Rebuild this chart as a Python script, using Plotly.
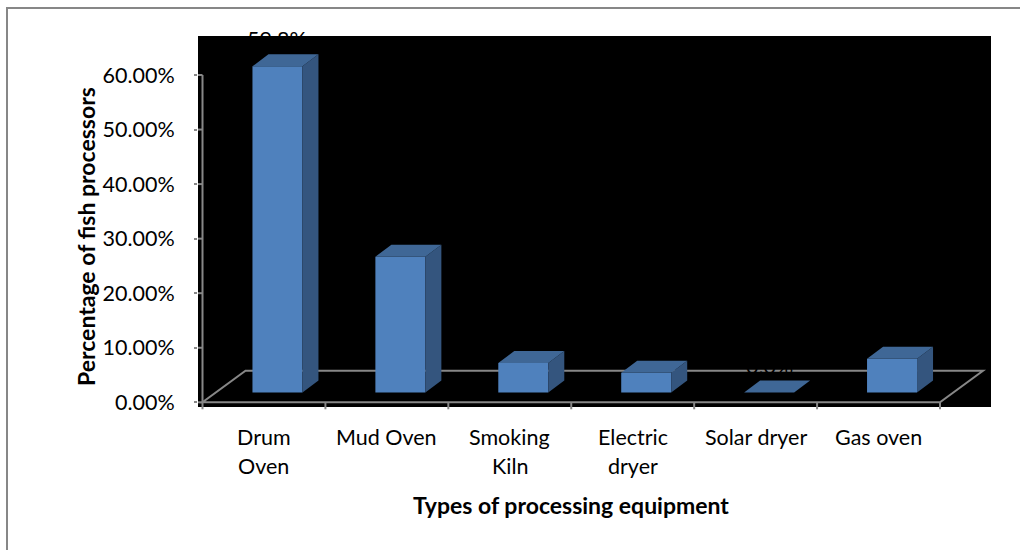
import plotly.graph_objects as go

# ---- data ---------------------------------------------------------------
categories = ["Drum Oven", "Mud Oven", "Smoking Kiln", "Electric dryer", "Solar dryer", "Gas oven"]
category_lines = [["Drum", "Oven"], ["Mud Oven"], ["Smoking", "Kiln"],
                  ["Electric", "dryer"], ["Solar dryer"], ["Gas oven"]]
values = [59.8, 24.9, 5.4, 3.6, 0.0, 6.2]          # percent of fish processors
y_ticks = [0, 10, 20, 30, 40, 50, 60]
y_tick_labels = ["0.00%", "10.00%", "20.00%", "30.00%", "40.00%", "50.00%", "60.00%"]
x_title = "Types of processing equipment"
y_title = "Percentage of fish processors"

# ---- page geometry (pixels) --------------------------------------------
W, H = 1026, 550
PL, PR, PT, PB = 198, 1000, 20, 412          # plot area
X0_PX, XN_PX = 202.5, 940.0                  # x = 0 and x = n on screen
Y0_PX, YTOP_PX = 402.3, 75.0                 # y = 0 and y = 60 on screen

n = len(categories)
ppx = (XN_PX - X0_PX) / n
ppy = (Y0_PX - YTOP_PX) / y_ticks[-1]
x_range = [-(X0_PX - PL) / ppx, n + (PR - XN_PX) / ppx]
y_range = [-(PB - Y0_PX) / ppy, y_ticks[-1] + (YTOP_PX - PT) / ppy]


def ux(px):
    return px / ppx


def uy(px):
    return px / ppy


def paper_x(px):
    return (px - PL) / (PR - PL)


def paper_y(py):
    return (PB - py) / (PB - PT)


# 3-D look: floor depth and bar depth, bars centred in the floor depth
FD_X, FD_Y = ux(43), uy(31.6)
BD_X, BD_Y = ux(16), uy(12)
BAR_W = ux(50)
IN_X, IN_Y = (FD_X - BD_X) / 2, (FD_Y - BD_Y) / 2

GRAY = "#878787"
FRONT = "#4F81BD"
TOP = "#3F6796"
SIDE = "#34557E"
FONT = "Lato"
LABEL_SIZE = 21.5
TITLE_SIZE = 23

fig = go.Figure()

# value axis line with the inner part of its ticks
ax_x, ax_y = [0, 0, None], [0, y_ticks[-1], None]
for t in y_ticks:
    ax_x += [x_range[0], 0, None]
    ax_y += [t, t, None]
# category separators hanging below the floor
for i in range(n + 1):
    ax_x += [i, i, None]
    ax_y += [0, -uy(7), None]
fig.add_trace(go.Scatter(x=ax_x, y=ax_y, mode="lines",
                         line=dict(color=GRAY, width=2), hoverinfo="skip"))

# bars: front faces
centers = [i + 0.5 + IN_X for i in range(n)]
fig.add_trace(go.Bar(x=centers, y=values, base=IN_Y, width=BAR_W,
                     marker=dict(color=FRONT, line=dict(width=0)),
                     hovertext=categories, hoverinfo="text+y"))

# bars: right-hand sides and tops
sx, sy, tx, ty = [], [], [], []
for c, v in zip(centers, values):
    xl, xr = c - BAR_W / 2, c + BAR_W / 2
    b, t = IN_Y, IN_Y + v
    sx += [xr, xr + BD_X, xr + BD_X, xr, xr, None]
    sy += [b, b + BD_Y, t + BD_Y, t, b, None]
    tx += [xl, xr, xr + BD_X, xl + BD_X, xl, None]
    ty += [t, t, t + BD_Y, t + BD_Y, t, None]
fig.add_trace(go.Scatter(x=sx, y=sy, mode="lines", fill="toself", fillcolor=SIDE,
                         line=dict(width=0, color=SIDE), hoverinfo="skip"))
fig.add_trace(go.Scatter(x=tx, y=ty, mode="lines", fill="toself", fillcolor=TOP,
                         line=dict(width=0, color=TOP), hoverinfo="skip"))

annotations = []
# data labels
for c, v in zip(centers, values):
    annotations.append(dict(x=c, y=IN_Y + v + BD_Y + uy(15), xref="x", yref="y",
                            text=f"{v:.1f}%", showarrow=False, yanchor="middle",
                            font=dict(family=FONT, size=LABEL_SIZE, color="black")))
# category labels
for i, lines in enumerate(category_lines):
    for k, line in enumerate(lines):
        annotations.append(dict(x=i + 0.5, y=paper_y(437 + 29 * k), xref="x", yref="paper",
                                text=line, showarrow=False, yanchor="middle",
                                font=dict(family=FONT, size=LABEL_SIZE, color="black")))
# axis titles
annotations.append(dict(x=paper_x(571), y=paper_y(505), xref="paper", yref="paper",
                        text=f"<b>{x_title}</b>", showarrow=False, yanchor="middle",
                        font=dict(family=FONT, size=TITLE_SIZE, color="black")))
annotations.append(dict(x=paper_x(86), y=paper_y(237), xref="paper", yref="paper",
                        text=f"<b>{y_title}</b>", showarrow=False, textangle=-90,
                        xanchor="center", yanchor="middle",
                        font=dict(family=FONT, size=TITLE_SIZE, color="black")))

floor_path = (f"M 0,0 L {n},0 L {n + FD_X},{FD_Y} L {FD_X},{FD_Y} Z")
shapes = [
    # dark back wall
    dict(type="rect", xref="paper", yref="paper", layer="below",
         x0=paper_x(198), x1=paper_x(991), y0=paper_y(407), y1=paper_y(36),
         fillcolor="black", line=dict(width=0)),
    # chart frame: top and left edges
    dict(type="line", xref="paper", yref="paper", layer="below",
         x0=paper_x(6), x1=paper_x(1020), y0=paper_y(8), y1=paper_y(8),
         line=dict(color=GRAY, width=2)),
    dict(type="line", xref="paper", yref="paper", layer="below",
         x0=paper_x(7), x1=paper_x(7), y0=paper_y(7), y1=paper_y(551),
         line=dict(color=GRAY, width=2)),
    # floor outline, behind the bars
    dict(type="path", xref="x", yref="y", layer="below", path=floor_path,
         fillcolor="rgba(0,0,0,0)", line=dict(color=GRAY, width=2)),
]

fig.update_layout(
    width=W, height=H,
    margin=dict(l=PL, r=W - PR, t=PT, b=H - PB, pad=0),
    paper_bgcolor="white", plot_bgcolor="rgba(0,0,0,0)",
    showlegend=False, annotations=annotations, shapes=shapes,
    font=dict(family=FONT, size=LABEL_SIZE, color="black"),
    xaxis=dict(range=x_range, visible=False, fixedrange=True),
    yaxis=dict(range=y_range, tickvals=y_ticks, ticktext=y_tick_labels,
               ticks="outside", ticklen=3, tickwidth=2, tickcolor=GRAY,
               ticklabelstandoff=15, showgrid=False, zeroline=False,
               showline=False, tickfont=dict(family=FONT, size=LABEL_SIZE, color="black"),
               fixedrange=True),
)

fig.write_html("out.html")
